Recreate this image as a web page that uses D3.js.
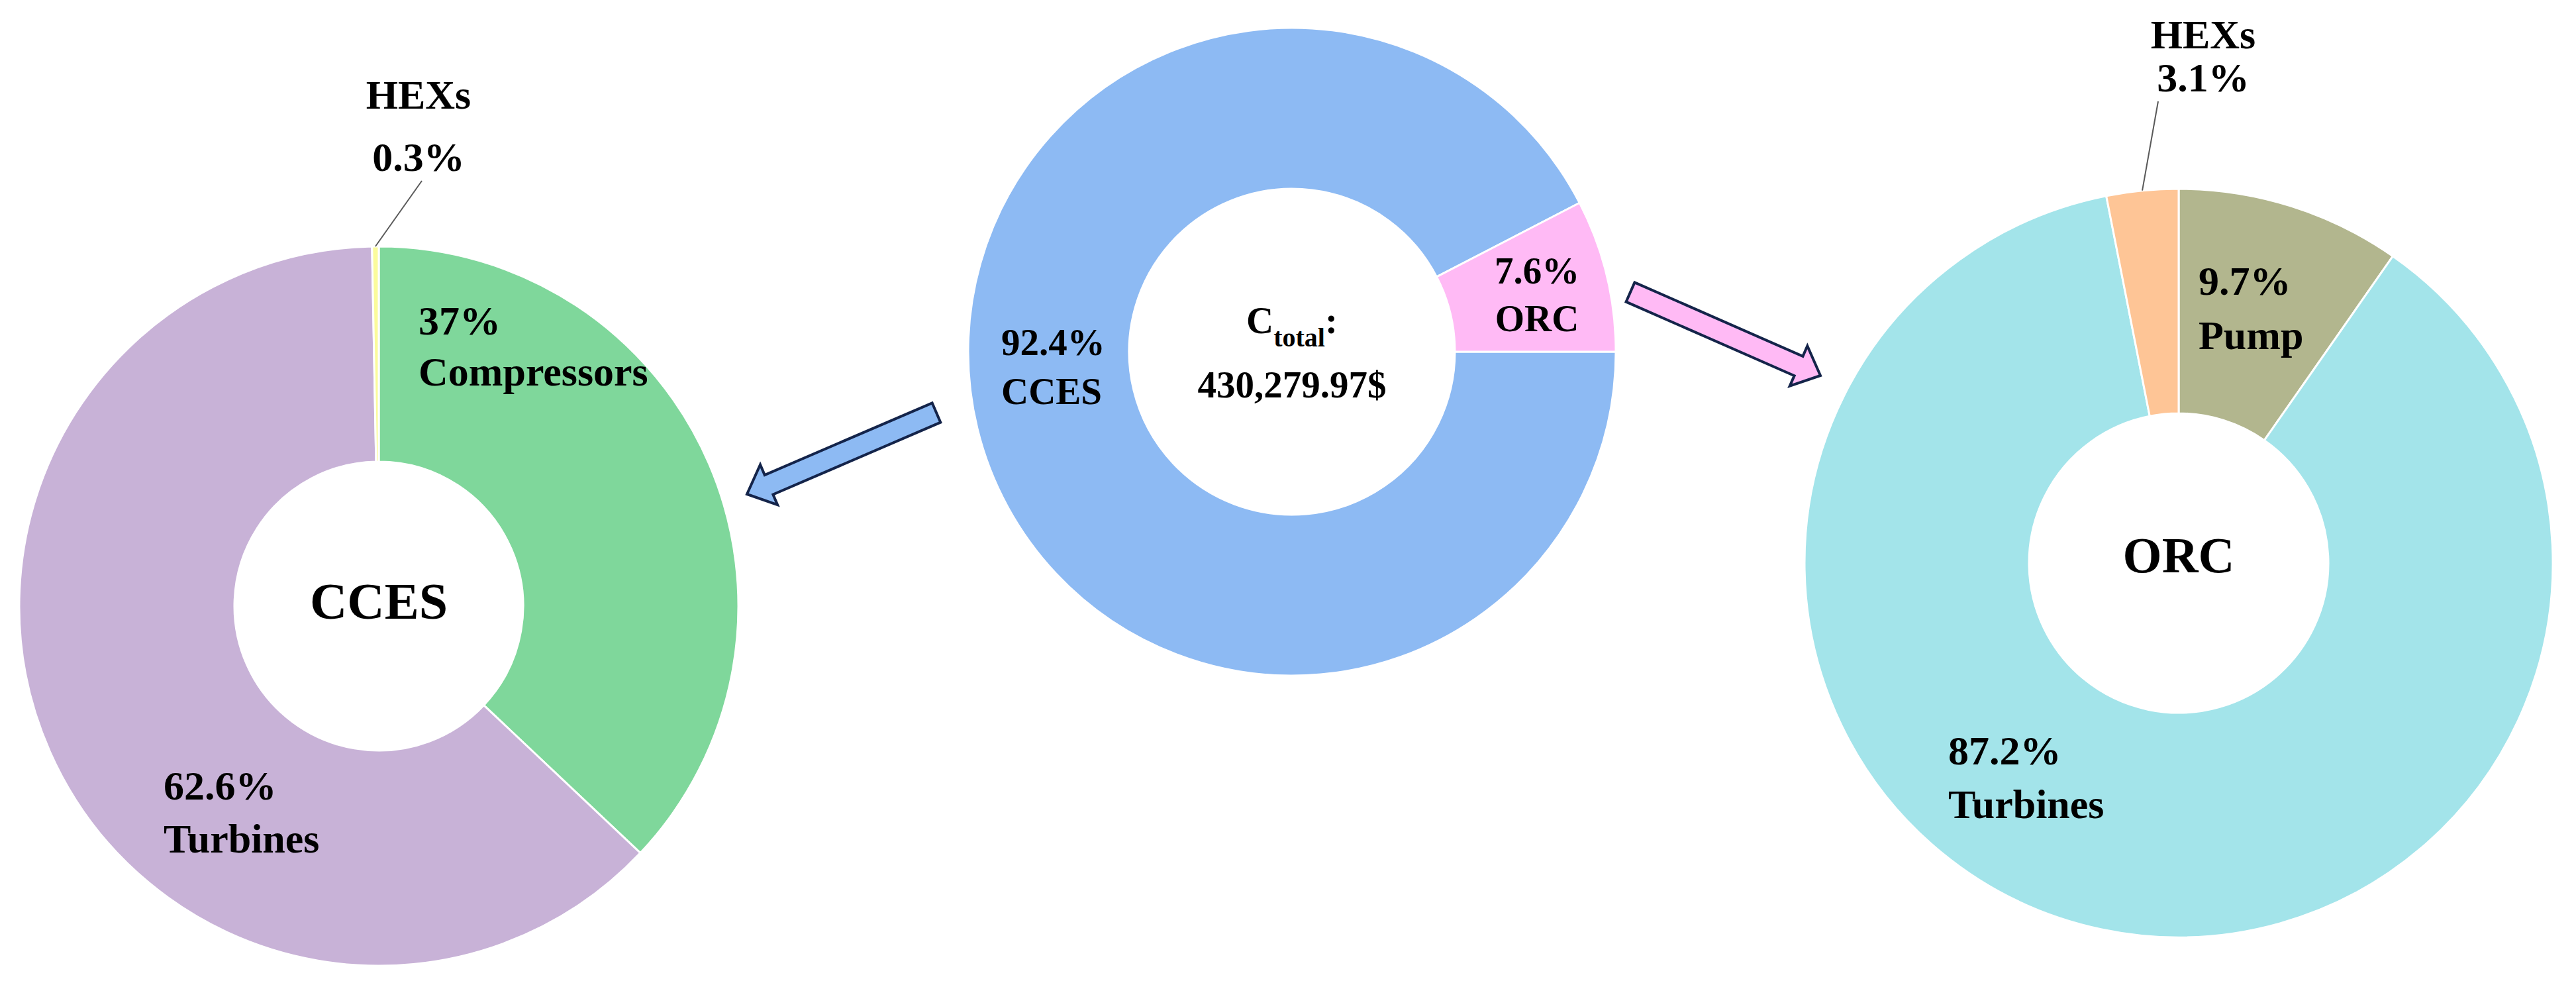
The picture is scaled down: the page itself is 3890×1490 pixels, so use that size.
<!DOCTYPE html>
<html lang="en">

<head>
    <meta charset="utf-8">
    <title>Cost breakdown donuts</title>
    <script type="text/javascript" src="https://cdn.jsdelivr.net/npm/d3@7"></script>
    <style>
        body { margin: 0; background: #fff; }
        text { font-family: "Times New Roman", "Liberation Serif", serif; font-weight: bold; fill: #000; }
    </style>
</head>

<body>
    <script type="text/javascript">
        // Data --------------------------------------------------
        var leftCats = ["Compressors", "Turbines", "HEXs"];
        var leftVals = [37, 62.6, 0.3];
        var leftColors = ["#7fd79b", "#c8b2d7", "#fbfb9c"];

        var midCats = ["CCES", "ORC"];
        var midVals = [92.4, 7.6];
        var midColors = ["#8dbaf3", "#ffbaf5"];
        var totalCost = "430,279.97$";

        var rightCats = ["Pump", "Turbines", "HEXs"];
        var rightVals = [9.7, 87.2, 3.1];
        var rightColors = ["#b2b68e", "#a3e4ea", "#fec596"];

        //Width and height
        var w = 3890;
        var h = 1490;

        var svg = d3.select("body")
            .append("svg")
            .attr("width", w)
            .attr("height", h);

        // one donut, labels placed by hand like the original figure
        function donut(cfg) {
            var g = svg.append("g")
                .attr("transform", "translate(" + cfg.cx + "," + cfg.cy + ")");

            var pie = d3.pie()
                .sort(null)
                .startAngle(cfg.start)
                .endAngle(cfg.start + 2 * Math.PI)
                .value(function(d) { return d; });

            var arc = d3.arc()
                .innerRadius(cfg.r)
                .outerRadius(cfg.R);

            var arcs = pie(cfg.vals);

            g.selectAll("path")
                .data(arcs)
                .enter()
                .append("path")
                .attr("d", arc)
                .attr("fill", function(d, i) { return cfg.colors[i]; })
                .attr("stroke", "#fff")
                .attr("stroke-width", 3);

            // centre title
            g.append("text")
                .attr("text-anchor", "middle")
                .attr("y", cfg.titleDy)
                .attr("font-size", cfg.titleSize)
                .text(cfg.title);

            // slice labels: percent on first line, name on second
            cfg.labels.forEach(function(lb) {
                var i = lb.i;
                var t = g.append("text")
                    .attr("text-anchor", lb.anchor)
                    .attr("font-size", lb.size);
                var pct = cfg.vals[i] + "%";
                var lines = lb.nameFirst ? [cfg.cats[i], pct] : [pct, cfg.cats[i]];
                t.append("tspan").attr("x", lb.x - cfg.cx).attr("y", lb.y - cfg.cy).text(lines[0]);
                t.append("tspan").attr("x", lb.x - cfg.cx).attr("y", lb.y - cfg.cy + lb.gap).text(lines[1]);

                if (lb.leader) {
                    var a = (arcs[i].startAngle + arcs[i].endAngle) / 2;
                    g.append("line")
                        .attr("x1", Math.sin(a) * cfg.R)
                        .attr("y1", -Math.cos(a) * cfg.R)
                        .attr("x2", lb.leader[0] - cfg.cx)
                        .attr("y2", lb.leader[1] - cfg.cy)
                        .attr("stroke", "#595959")
                        .attr("stroke-width", 2);
                }
            });
            return g;
        }

        // Left donut (CCES) -------------------------------------
        donut({
            cx: 572, cy: 915, R: 543, r: 218, start: 0,
            vals: leftVals, cats: leftCats, colors: leftColors,
            title: "CCES", titleSize: 78, titleDy: 19,
            labels: [
                { i: 0, x: 632, y: 505, gap: 77, size: 62, anchor: "start" },
                { i: 1, x: 247, y: 1207, gap: 80, size: 62, anchor: "start" },
                { i: 2, x: 632, y: 164, gap: 94, size: 62, anchor: "middle", nameFirst: true, leader: [637, 273] }
            ]
        });

        // Middle donut (total) ----------------------------------
        var mid = donut({
            cx: 1951, cy: 531, R: 489, r: 246, start: Math.PI / 2,
            vals: midVals, cats: midCats, colors: midColors,
            title: "", titleSize: 57, titleDy: 0,
            labels: [
                { i: 0, x: 1512, y: 536, gap: 74, size: 57, anchor: "start" },
                { i: 1, x: 2321, y: 428, gap: 72, size: 57, anchor: "middle" }
            ]
        });

        var ct = mid.append("text")
            .attr("text-anchor", "middle")
            .attr("font-size", 57)
            .attr("y", 503 - 531);
        ct.append("tspan").text("C");
        ct.append("tspan").attr("font-size", 40).attr("dy", 20).text("total");
        ct.append("tspan").attr("dy", -20).text(":");

        mid.append("text")
            .attr("text-anchor", "middle")
            .attr("font-size", 57)
            .attr("y", 600 - 531)
            .text(totalCost);

        // Right donut (ORC) -------------------------------------
        donut({
            cx: 3290, cy: 850, R: 565, r: 226, start: 0,
            vals: rightVals, cats: rightCats, colors: rightColors,
            title: "ORC", titleSize: 76, titleDy: 14,
            labels: [
                { i: 0, x: 3320, y: 445, gap: 82, size: 62, anchor: "start" },
                { i: 1, x: 2942, y: 1154, gap: 81, size: 62, anchor: "start" },
                { i: 2, x: 3327, y: 73, gap: 65, size: 62, anchor: "middle", nameFirst: true, leader: [3259, 153] }
            ]
        });

        // Arrows ------------------------------------------------
        var arrows = [
            { tail: [1414, 623], tip: [1128, 746], fill: "#8dbaf3" },
            { tail: [2462, 441], tip: [2749, 567], fill: "#ffbaf5" }
        ];

        arrows.forEach(function(a) {
            var dx = a.tip[0] - a.tail[0];
            var dy = a.tip[1] - a.tail[1];
            var len = Math.sqrt(dx * dx + dy * dy);
            var ang = Math.atan2(dy, dx) * 180 / Math.PI;
            var sw = 16, hw = 33, hl = 36;
            var pts = [
                [0, -sw], [len - hl, -sw], [len - hl, -hw], [len, 0],
                [len - hl, hw], [len - hl, sw], [0, sw]
            ];
            svg.append("path")
                .attr("d", d3.line()(pts) + "Z")
                .attr("transform", "translate(" + a.tail[0] + "," + a.tail[1] + ") rotate(" + ang + ")")
                .attr("fill", a.fill)
                .attr("stroke", "#14244a")
                .attr("stroke-width", 4)
                .attr("stroke-linejoin", "miter");
        });
    </script>

</body>

</html>
